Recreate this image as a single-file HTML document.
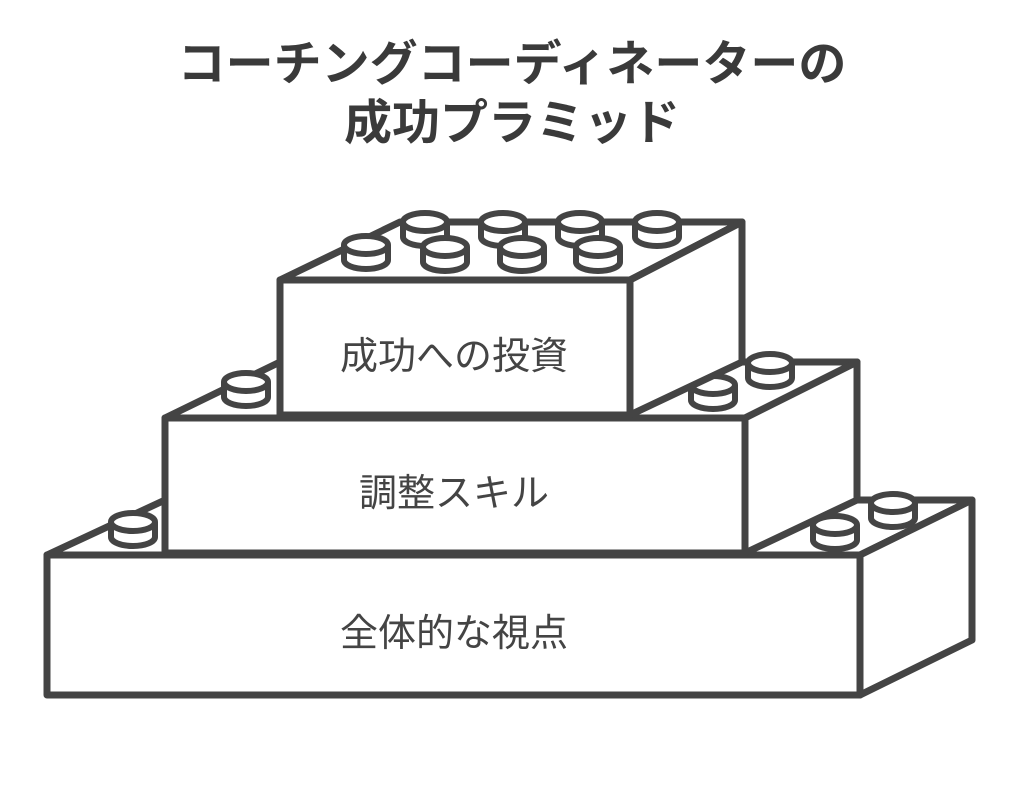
<!DOCTYPE html>
<html><head><meta charset="utf-8"><style>
html,body{margin:0;padding:0;background:#fff;}
body{width:1024px;height:793px;overflow:hidden;}
</style></head><body>
<svg width="1024" height="793" viewBox="0 0 1024 793" xmlns="http://www.w3.org/2000/svg">
<defs>
<g id="stud">
<path d="M-22,0 L-22,15 A22,9 0 0 0 22,15 L22,0" fill="#fff" stroke="#444" stroke-width="6"/>
<ellipse cx="0" cy="0" rx="22" ry="9" fill="#fff" stroke="#444" stroke-width="6"/>
</g>
</defs>
<g font-family="'Liberation Sans','Noto Sans CJK JP',sans-serif" fill="#3a3a3a" font-weight="bold" font-size="48" text-anchor="middle">
<text x="512" y="80">コーチングコーディネーターの</text>
<text x="512" y="139">成功プラミッド</text>
</g>
<g stroke="#444" stroke-width="7" stroke-linejoin="round" fill="#fff">
<polygon points="47,555 165,500 972,500 860,555"/>
<polygon points="860,555 972,500 972,640 860,695"/>
<rect x="47" y="555" width="813" height="140"/>
<use href="#stud" x="893" y="503"/>
<use href="#stud" x="835" y="525"/>
<use href="#stud" x="133" y="522"/>
<polygon points="165,418 280,362 857,362 745,418"/>
<polygon points="745,418 857,362 857,500 745,553"/>
<rect x="165" y="418" width="580" height="135"/>
<use href="#stud" x="770" y="363"/>
<use href="#stud" x="713" y="385"/>
<use href="#stud" x="246" y="382"/>
<polygon points="280,280 400,222 742,222 630,280"/>
<polygon points="630,280 742,222 742,362 630,415"/>
<rect x="280" y="280" width="350" height="135"/>
<use href="#stud" x="425" y="222"/>
<use href="#stud" x="503" y="222"/>
<use href="#stud" x="580" y="222"/>
<use href="#stud" x="657" y="222"/>
<use href="#stud" x="366" y="245"/>
<use href="#stud" x="445" y="247"/>
<use href="#stud" x="522" y="247"/>
<use href="#stud" x="598" y="247"/>
</g>
<g font-family="'Liberation Sans','Noto Sans CJK JP',sans-serif" fill="#444" font-size="38" text-anchor="middle">
<text x="454" y="369">成功への投資</text>
<text x="454" y="506">調整スキル</text>
<text x="454" y="646">全体的な視点</text>
</g>
</svg>
</body></html>
